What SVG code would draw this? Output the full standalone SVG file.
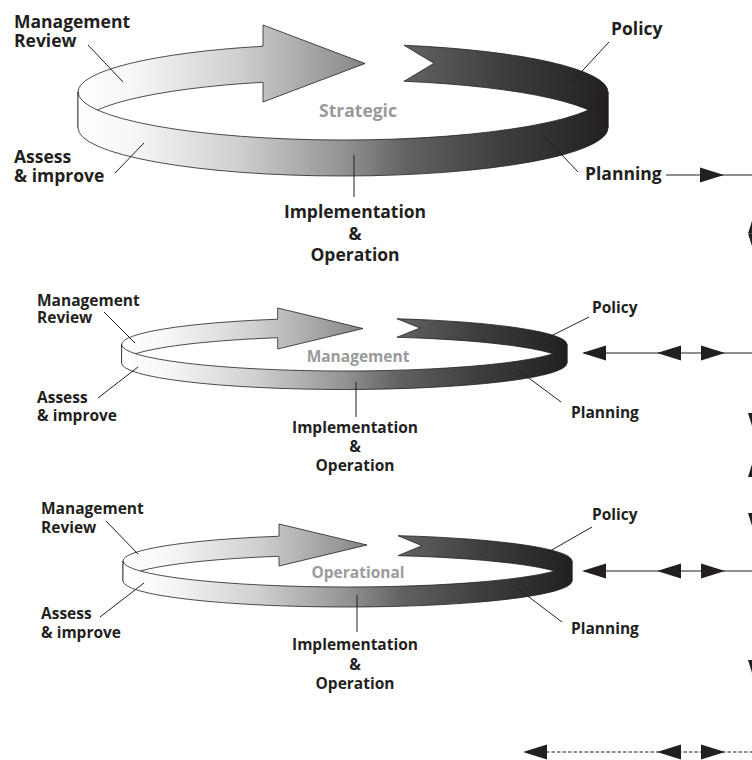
<svg xmlns="http://www.w3.org/2000/svg" xmlns:xlink="http://www.w3.org/1999/xlink" width="752" height="760" viewBox="0 0 752 760">
<defs>
<linearGradient id="gBase">
<stop offset="0" stop-color="#ffffff"/>
<stop offset="0.1" stop-color="#f7f7f7"/>
<stop offset="0.3" stop-color="#d0d0d0"/>
<stop offset="0.5" stop-color="#939393"/>
<stop offset="0.62" stop-color="#626262"/>
<stop offset="0.8" stop-color="#3e3e3e"/>
<stop offset="1" stop-color="#231f20"/>
</linearGradient>
<linearGradient id="g1" href="#gBase" xlink:href="#gBase" gradientUnits="userSpaceOnUse" x1="78" y1="0" x2="608" y2="0"/>
<linearGradient id="g2" href="#gBase" xlink:href="#gBase" gradientUnits="userSpaceOnUse" x1="121.6" y1="0" x2="567" y2="0"/>
<linearGradient id="g3" href="#gBase" xlink:href="#gBase" gradientUnits="userSpaceOnUse" x1="123" y1="0" x2="572" y2="0"/>
<polygon id="ah" points="0,0 -24,-7.5 -24,7.5"/>
</defs>
<style>
.band{stroke:#231f20;stroke-width:0.8;stroke-linejoin:miter}
.lead{stroke:#231f20;stroke-width:1;fill:none}
.t{font-family:"Open Sans","Liberation Sans",sans-serif;font-weight:700;fill:#231f20}
.big{font-size:17.5px}
.sm{font-size:15.5px}
.c{text-anchor:middle}
.gray{fill:#9a9a9a}
.con{stroke:#231f20;stroke-width:1.2;fill:none}
.dash{stroke-dasharray:3.5 2}
.head{fill:#231f20}
</style>
<rect width="752" height="760" fill="#ffffff"/>

<g id="ring-strategic">
<path class="band" fill="url(#g1)" d="M78,92 A265,48 0 0 1 263,46.24 L263,25 L365,63.5 L263,102 L263,82.24 A265,48 0 0 0 78,128 Z"/>
<path class="band" fill="url(#g1)" d="M404,45.29 A265,48 0 0 1 608,92 L608,128 A265,48 0 0 0 404,81.29 L434,63.3 Z"/>
<path class="band" fill="url(#g1)" d="M78,92 A265,48 0 0 0 608,92 L608,128 A265,48 0 0 1 78,128 Z"/>
<text class="t big c gray" x="358" y="117">Strategic</text>
<line class="lead" x1="88" y1="45" x2="123" y2="82"/>
<line class="lead" x1="115" y1="173" x2="144" y2="143"/>
<line class="lead" x1="354" y1="155" x2="354" y2="197"/>
<line class="lead" x1="609" y1="42" x2="571" y2="83"/>
<line class="lead" x1="578" y1="172" x2="546" y2="138"/>
<text class="t big" x="14" y="28">Management<tspan x="14" y="47">Review</tspan></text>
<text class="t big" x="14" y="163">Assess<tspan x="14" y="182">&amp; improve</tspan></text>
<text class="t big" x="611" y="35">Policy</text>
<text class="t big" x="585" y="180">Planning</text>
<text class="t big c" x="355" y="218">Implementation<tspan x="355" y="240">&amp;</tspan><tspan x="355" y="261">Operation</tspan></text>
</g>

<g id="ring-management">
<path class="band" fill="url(#g2)" d="M121.6,344.5 A222.7,26.5 0 0 1 277.7,319.21 L277.7,308 L363,328.5 L277.7,349 L277.7,337.71 A222.7,26.5 0 0 0 121.6,363 Z"/>
<path class="band" fill="url(#g2)" d="M397,318.75 A222.7,26.5 0 0 1 567,344.5 L567,363 A222.7,26.5 0 0 0 397,337.25 L420,328 Z"/>
<path class="band" fill="url(#g2)" d="M121.6,344.5 A222.7,26.5 0 0 0 567,344.5 L567,363 A222.7,26.5 0 0 1 121.6,363 Z"/>
<text class="t sm c gray" x="358" y="362">Management</text>
<line class="lead" x1="104" y1="312" x2="135" y2="343"/>
<line class="lead" x1="98" y1="398" x2="138" y2="367"/>
<line class="lead" x1="356" y1="382" x2="356" y2="417"/>
<line class="lead" x1="589" y1="317" x2="543" y2="340"/>
<line class="lead" x1="561" y1="402" x2="518" y2="370"/>
<text class="t sm" x="37" y="306">Management<tspan x="37" y="323">Review</tspan></text>
<text class="t sm" x="37" y="403">Assess<tspan x="37" y="421">&amp; improve</tspan></text>
<text class="t sm" x="592" y="313">Policy</text>
<text class="t sm" x="571" y="418">Planning</text>
<text class="t sm c" x="355" y="433">Implementation<tspan x="355" y="452">&amp;</tspan><tspan x="355" y="471">Operation</tspan></text>
</g>

<g id="ring-operational">
<path class="band" fill="url(#g3)" d="M123,561 A224.5,26 0 0 1 279,536.24 L279,524 L367,545 L279,566 L279,556.24 A224.5,26 0 0 0 123,581 Z"/>
<path class="band" fill="url(#g3)" d="M398,535.67 A224.5,26 0 0 1 572,561 L572,581 A224.5,26 0 0 0 398,555.67 L422,545.7 Z"/>
<path class="band" fill="url(#g3)" d="M123,561 A224.5,26 0 0 0 572,561 L572,581 A224.5,26 0 0 1 123,581 Z"/>
<text class="t sm c gray" x="358" y="578">Operational</text>
<line class="lead" x1="106" y1="521" x2="138" y2="554"/>
<line class="lead" x1="100" y1="617" x2="144" y2="583"/>
<line class="lead" x1="357" y1="595" x2="357" y2="632"/>
<line class="lead" x1="592" y1="527" x2="543" y2="555"/>
<line class="lead" x1="562" y1="622" x2="517" y2="588"/>
<text class="t sm" x="41" y="514">Management<tspan x="41" y="533">Review</tspan></text>
<text class="t sm" x="41" y="619">Assess<tspan x="41" y="638">&amp; improve</tspan></text>
<text class="t sm" x="592" y="520">Policy</text>
<text class="t sm" x="571" y="634">Planning</text>
<text class="t sm c" x="355" y="649.5">Implementation<tspan x="355" y="669.5">&amp;</tspan><tspan x="355" y="688.5">Operation</tspan></text>
</g>

<g id="connectors">
<line class="con" x1="666" y1="175" x2="752" y2="175"/>
<use href="#ah" xlink:href="#ah" class="head" transform="translate(724,175)"/>

<line class="con" x1="584" y1="353" x2="752" y2="353"/>
<use href="#ah" xlink:href="#ah" class="head" transform="translate(582,353) rotate(180)"/>
<use href="#ah" xlink:href="#ah" class="head" transform="translate(657,353) rotate(180)"/>
<use href="#ah" xlink:href="#ah" class="head" transform="translate(725,353)"/>

<line class="con" x1="584" y1="571" x2="752" y2="571"/>
<use href="#ah" xlink:href="#ah" class="head" transform="translate(582,571) rotate(180)"/>
<use href="#ah" xlink:href="#ah" class="head" transform="translate(657,571) rotate(180)"/>
<use href="#ah" xlink:href="#ah" class="head" transform="translate(725,571)"/>

<line class="con dash" x1="546" y1="752" x2="752" y2="752"/>
<use href="#ah" xlink:href="#ah" class="head" transform="translate(523,752) rotate(180)"/>
<use href="#ah" xlink:href="#ah" class="head" transform="translate(657,752) rotate(180)"/>
<use href="#ah" xlink:href="#ah" class="head" transform="translate(725,752)"/>

<use href="#ah" xlink:href="#ah" class="head" transform="translate(755.5,209.5) rotate(-90)"/>
<use href="#ah" xlink:href="#ah" class="head" transform="translate(755.5,257.5) rotate(90)"/>
<use href="#ah" xlink:href="#ah" class="head" transform="translate(755.5,437) rotate(90)"/>
<use href="#ah" xlink:href="#ah" class="head" transform="translate(755.5,453) rotate(-90)"/>
<use href="#ah" xlink:href="#ah" class="head" transform="translate(755.5,537) rotate(90)"/>
<use href="#ah" xlink:href="#ah" class="head" transform="translate(755.5,684) rotate(90)"/>
</g>
</svg>
